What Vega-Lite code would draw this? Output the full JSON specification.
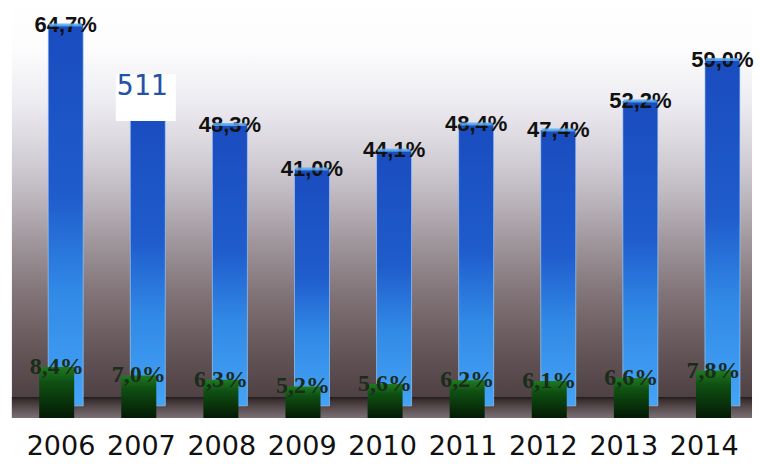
{
  "$schema": "https://vega.github.io/schema/vega-lite/v6.json",
  "width": 760,
  "height": 466,
  "padding": 0,
  "autosize": {"type": "none"},
  "background": "white",
  "config": {"view": {"stroke": null}},
  "datasets": {
    "rates": [
      {"year": 2006, "total": 64.7, "share": 8.4, "totalLabel": "64,7%", "shareLabel": "8,4%"},
      {"year": 2007, "total": 51.1, "share": 7.0, "totalLabel": "51,1%", "shareLabel": "7,0%"},
      {"year": 2008, "total": 48.3, "share": 6.3, "totalLabel": "48,3%", "shareLabel": "6,3%"},
      {"year": 2009, "total": 41.0, "share": 5.2, "totalLabel": "41,0%", "shareLabel": "5,2%"},
      {"year": 2010, "total": 44.1, "share": 5.6, "totalLabel": "44,1%", "shareLabel": "5,6%"},
      {"year": 2011, "total": 48.4, "share": 6.2, "totalLabel": "48,4%", "shareLabel": "6,2%"},
      {"year": 2012, "total": 47.4, "share": 6.1, "totalLabel": "47,4%", "shareLabel": "6,1%"},
      {"year": 2013, "total": 52.2, "share": 6.6, "totalLabel": "52,2%", "shareLabel": "6,6%"},
      {"year": 2014, "total": 59.0, "share": 7.8, "totalLabel": "59,0%", "shareLabel": "7,8%"}
    ]
  },
  "layer": [
    {
      "layer": [
        {
          "description": "back wall with vertical shading",
          "data": {"values": [{}]},
          "mark": {
            "type": "rect",
            "fill": {
              "gradient": "linear", "x1": 0, "y1": 0, "x2": 0, "y2": 1,
              "stops": [
                {"offset": 0, "color": "#ffffff"},
                {"offset": 0.12, "color": "#fcfcfd"},
                {"offset": 0.25, "color": "#ecebf0"},
                {"offset": 0.4, "color": "#cfcad2"},
                {"offset": 0.5, "color": "#b5aeb5"},
                {"offset": 0.6, "color": "#9a9095"},
                {"offset": 0.72, "color": "#7d6f73"},
                {"offset": 0.85, "color": "#625356"},
                {"offset": 0.95, "color": "#4e4143"},
                {"offset": 1, "color": "#463a3c"}
              ]
            }
          },
          "encoding": {
            "x": {"datum": 2005.3448, "type": "quantitative", "scale": {"domain": [2005.2607, 2014.3965], "nice": false, "zero": false}, "axis": null},
            "x2": {"datum": 2014.3601},
            "y": {"datum": 68.816, "type": "quantitative", "scale": {"domain": [-7.902, 68.816], "nice": false, "zero": false}, "axis": null},
            "y2": {"datum": 0}
          }
        },
        {
          "description": "floor strip",
          "data": {"values": [{}]},
          "mark": {
            "type": "rect",
            "fill": {
              "gradient": "linear", "x1": 0, "y1": 0, "x2": 0, "y2": 1,
              "stops": [
                {"offset": 0, "color": "#231a1b"},
                {"offset": 0.15, "color": "#3a2f31"},
                {"offset": 0.6, "color": "#5f5356"},
                {"offset": 1, "color": "#7a6f76"}
              ]
            }
          },
          "encoding": {
            "x": {"datum": 2005.3448, "type": "quantitative", "scale": {"domain": [2005.2607, 2014.3965], "nice": false, "zero": false}, "axis": null},
            "x2": {"datum": 2014.3601},
            "y": {"datum": 3.46, "type": "quantitative", "scale": {"domain": [-7.902, 68.816], "nice": false, "zero": false}, "axis": null},
            "y2": {"datum": 0}
          }
        },
        {
          "description": "main blue columns",
          "data": {"name": "rates"},
          "mark": {
            "type": "bar",
            "width": 35,
            "stroke": "#a8d4ff",
            "strokeWidth": 1,
            "strokeOpacity": 0.6,
            "fill": {
              "gradient": "linear", "x1": 0, "y1": 0, "x2": 0, "y2": 1,
              "stops": [
                {"offset": 0, "color": "#1a4cbe"},
                {"offset": 0.45, "color": "#1f5ccc"},
                {"offset": 0.7, "color": "#3189e6"},
                {"offset": 1, "color": "#44a4f6"}
              ]
            }
          },
          "encoding": {
            "x": {"field": "year", "type": "quantitative", "scale": {"domain": [2005.2607, 2014.3965], "nice": false, "zero": false}, "axis": null},
            "y": {"field": "total", "type": "quantitative", "scale": {"domain": [-7.902, 68.816], "nice": false, "zero": false}, "axis": null},
            "y2": {"datum": 2}
          }
        },
        {
          "description": "green columns in front",
          "data": {"name": "rates"},
          "mark": {
            "type": "bar",
            "width": 35,
            "xOffset": -9,
            "fill": {
              "gradient": "linear", "x1": 0, "y1": 0, "x2": 0, "y2": 1,
              "stops": [
                {"offset": 0, "color": "#1f7a22"},
                {"offset": 0.3, "color": "#0f5012"},
                {"offset": 1, "color": "#041a05"}
              ]
            }
          },
          "encoding": {
            "x": {"field": "year", "type": "quantitative", "scale": {"domain": [2005.2607, 2014.3965], "nice": false, "zero": false}, "axis": null},
            "y": {"field": "share", "type": "quantitative", "scale": {"domain": [-7.902, 68.816], "nice": false, "zero": false}, "axis": null},
            "y2": {"datum": 0}
          }
        },
        {
          "description": "value labels of the blue columns (2007 sits under the note box)",
          "data": {"name": "rates"},
          "transform": [{"filter": "datum.year != 2007"}],
          "mark": {"type": "text", "font": "Liberation Sans", "fontWeight": "bold", "fontSize": 22, "baseline": "middle", "align": "center", "color": "#111111"},
          "encoding": {
            "x": {"field": "year", "type": "quantitative", "scale": {"domain": [2005.2607, 2014.3965], "nice": false, "zero": false}, "axis": null},
            "y": {"field": "total", "type": "quantitative", "scale": {"domain": [-7.902, 68.816], "nice": false, "zero": false}, "axis": null},
            "text": {"field": "totalLabel"}
          }
        },
        {
          "description": "light top face of each blue column",
          "data": {"name": "rates"},
          "mark": {"type": "tick", "orient": "horizontal", "size": 33, "thickness": 3, "color": "#5aaaf0", "opacity": 0.85},
          "encoding": {
            "x": {"field": "year", "type": "quantitative", "scale": {"domain": [2005.2607, 2014.3965], "nice": false, "zero": false}, "axis": null},
            "y": {"field": "total", "type": "quantitative", "scale": {"domain": [-7.902, 68.816], "nice": false, "zero": false}, "axis": null}
          }
        },
        {
          "description": "value labels of the green columns",
          "data": {"name": "rates"},
          "mark": {"type": "text", "font": "Liberation Serif", "fontWeight": "bold", "fontSize": 24, "baseline": "middle", "align": "center", "xOffset": -9, "color": "#1a2c1a"},
          "encoding": {
            "x": {"field": "year", "type": "quantitative", "scale": {"domain": [2005.2607, 2014.3965], "nice": false, "zero": false}, "axis": null},
            "y": {"field": "share", "type": "quantitative", "scale": {"domain": [-7.902, 68.816], "nice": false, "zero": false}, "axis": null},
            "text": {"field": "shareLabel"}
          }
        },
        {
          "description": "white note box over the 2007 column",
          "data": {"values": [{"year": 2007, "note": "511"}]},
          "mark": {"type": "bar", "width": 60, "xOffset": -2, "fill": "#ffffff"},
          "encoding": {
            "x": {"field": "year", "type": "quantitative", "scale": {"domain": [2005.2607, 2014.3965], "nice": false, "zero": false}, "axis": null},
            "y": {"datum": 56.6, "type": "quantitative", "scale": {"domain": [-7.902, 68.816], "nice": false, "zero": false}, "axis": null},
            "y2": {"datum": 48.9}
          }
        },
        {
          "description": "note text",
          "data": {"values": [{"year": 2007, "note": "511"}]},
          "mark": {"type": "text", "font": "DejaVu Sans Mono", "fontSize": 28, "align": "left", "baseline": "alphabetic", "xOffset": -31, "color": "#2452a6"},
          "encoding": {
            "x": {"field": "year", "type": "quantitative", "scale": {"domain": [2005.2607, 2014.3965], "nice": false, "zero": false}, "axis": null},
            "y": {"datum": 53.2, "type": "quantitative", "scale": {"domain": [-7.902, 68.816], "nice": false, "zero": false}, "axis": null},
            "text": {"field": "note"}
          }
        }
      ]
    },
    {
      "description": "year labels under the floor",
      "data": {"name": "rates"},
      "mark": {"type": "text", "font": "DejaVu Sans", "fontSize": 27, "align": "center", "baseline": "alphabetic", "color": "#111111"},
      "encoding": {
        "x": {"field": "year", "type": "quantitative", "scale": {"domain": [2005.2413, 2014.694], "nice": false, "zero": false}, "axis": null},
        "y": {"datum": -6.09, "type": "quantitative", "scale": {"domain": [-7.902, 68.816], "nice": false, "zero": false}, "axis": null},
        "text": {"field": "year", "type": "quantitative", "format": "d"}
      }
    }
  ],
  "resolve": {"scale": {"x": "independent"}}
}
